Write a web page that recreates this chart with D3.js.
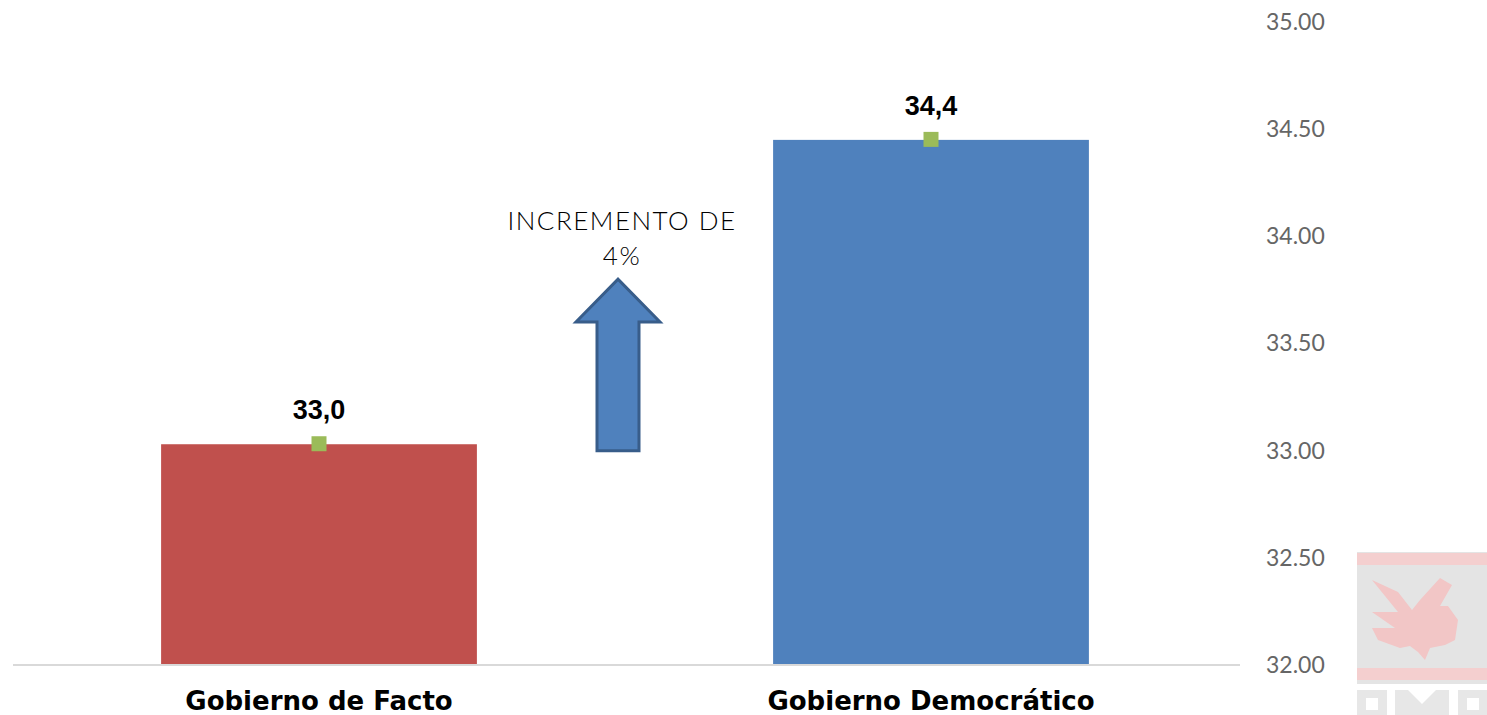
<!DOCTYPE html>
<meta charset="utf-8" />
<script src="https://d3js.org/d3.v7.min.js"></script>
<style>
	body { margin: 0; background: #fff; }
</style>
<div id="chart"></div>
<script>
	// data
	var categories = ["Gobierno de Facto", "Gobierno Democrático"];
	var values = [33.03, 34.45];
	var valueLabels = ["33,0", "34,4"];
	var barColors = ["#c0504d", "#4f81bd"];
	var yTicks = [32.0, 32.5, 33.0, 33.5, 34.0, 34.5, 35.0];
	var annotationLines = ["INCREMENTO DE", "4%"];
	var arrowFrom = 33.0, arrowHeadBase = 33.6, arrowTip = 33.8;

	var width = 1487, height = 715;

	var svg = d3.select("#chart").append("svg")
		.attr("width", width)
		.attr("height", height);

	var x = d3.scaleBand().domain(categories).range([13, 1237]);
	var barW = x.bandwidth() * 0.516;

	var y = d3.scaleLinear().domain([32, 35]).range([665, 22]);

	// watermark logo bottom right (faded)
	var logo = svg.append("g").attr("opacity", 0.8);
	logo.append("rect").attr("x", 1357).attr("y", 552).attr("width", 130).attr("height", 132).attr("fill", "#dedede");
	logo.append("rect").attr("x", 1357).attr("y", 553).attr("width", 130).attr("height", 12).attr("fill", "#f2c4c4");
	logo.append("rect").attr("x", 1357).attr("y", 668).attr("width", 130).attr("height", 12).attr("fill", "#f2c4c4");
	// rough eagle shape
	var eagle = [[1372,580],[1398,592],[1412,610],[1420,600],[1440,578],[1452,585],[1440,606],[1448,606],[1458,620],[1455,640],[1445,645],[1430,648],[1425,660],[1418,652],[1410,646],[1400,648],[1378,640],[1372,628],[1395,628],[1372,612],[1398,612]];
	logo.append("path")
		.attr("d", d3.line()(eagle) + "Z")
		.attr("fill", "#f0b8b8");
	// bottom letters
	logo.append("rect").attr("x", 1357).attr("y", 690).attr("width", 30).attr("height", 25).attr("fill", "#e2e2e2");
	logo.append("rect").attr("x", 1366).attr("y", 698).attr("width", 12).attr("height", 12).attr("fill", "#fff");
	logo.append("path").attr("d", "M1395,690 L1408,690 L1422,704 L1436,690 L1449,690 L1449,715 L1395,715 Z").attr("fill", "#e2e2e2");
	logo.append("rect").attr("x", 1458).attr("y", 690).attr("width", 29).attr("height", 25).attr("fill", "#e2e2e2");
	logo.append("rect").attr("x", 1467).attr("y", 698).attr("width", 12).attr("height", 12).attr("fill", "#fff");

	// bars
	svg.selectAll(".bar")
		.data(categories)
		.join("rect")
		.attr("class", "bar")
		.attr("x", (d) => x(d) + x.bandwidth() / 2 - barW / 2)
		.attr("y", (d, i) => y(values[i]))
		.attr("width", barW)
		.attr("height", (d, i) => y(32) - y(values[i]))
		.attr("fill", (d, i) => barColors[i]);

	// baseline
	svg.append("line")
		.attr("x1", 13).attr("x2", 1240)
		.attr("y1", y(32)).attr("y2", y(32))
		.attr("stroke", "#d9d9d9")
		.attr("stroke-width", 2);

	// green markers
	svg.selectAll(".marker")
		.data(categories)
		.join("rect")
		.attr("class", "marker")
		.attr("x", (d) => x(d) + x.bandwidth() / 2 - 7.5)
		.attr("y", (d, i) => y(values[i]) - 8)
		.attr("width", 15)
		.attr("height", 15)
		.attr("fill", "#9bbb59");

	// value labels
	svg.selectAll(".vlabel")
		.data(categories)
		.join("text")
		.attr("class", "vlabel")
		.attr("x", (d) => x(d) + x.bandwidth() / 2)
		.attr("y", (d, i) => y(values[i]) - 25)
		.attr("text-anchor", "middle")
		.style("font-family", "Liberation Sans, Arial, sans-serif")
		.style("font-weight", "bold")
		.style("font-size", "27px")
		.attr("fill", "#000")
		.text((d, i) => valueLabels[i]);

	// category labels
	svg.selectAll(".clabel")
		.data(categories)
		.join("text")
		.attr("class", "clabel")
		.attr("x", (d) => x(d) + x.bandwidth() / 2)
		.attr("y", 710)
		.attr("text-anchor", "middle")
		.style("font-family", "DejaVu Sans, sans-serif")
		.style("font-weight", "bold")
		.style("font-size", "26px")
		.attr("fill", "#000")
		.text((d) => d);

	// right axis tick labels
	svg.append("g")
		.attr("transform", "translate(1240,0)")
		.call(d3.axisRight(y).tickValues(yTicks).tickFormat(d3.format(".2f")).tickSize(0).tickPadding(26))
		.call((g) => g.select(".domain").remove())
		.call((g) => g.selectAll("text")
			.style("font-family", "Lato, sans-serif")
			.style("font-size", "23px")
			.attr("fill", "#666"));

	// increase arrow between the bars
	var ax = (x(categories[0]) + x.bandwidth() / 2 + x(categories[1]) + x.bandwidth() / 2) / 2 - 7;
	var shaftHalf = 21, headHalf = 42;
	var arrow = [
		[ax - shaftHalf, y(arrowFrom)],
		[ax - shaftHalf, y(arrowHeadBase)],
		[ax - headHalf, y(arrowHeadBase)],
		[ax, y(arrowTip)],
		[ax + headHalf, y(arrowHeadBase)],
		[ax + shaftHalf, y(arrowHeadBase)],
		[ax + shaftHalf, y(arrowFrom)]
	];
	svg.append("path")
		.attr("d", d3.line()(arrow) + "Z")
		.attr("fill", "#4f81bd")
		.attr("stroke", "#385d8a")
		.attr("stroke-width", 3)
		.attr("stroke-linejoin", "miter");

	// annotation text
	svg.append("g")
		.selectAll("text")
		.data(annotationLines)
		.join("text")
		.attr("x", ax + 4)
		.attr("y", (d, i) => 230 + i * 35)
		.attr("text-anchor", "middle")
		.style("font-family", "Lato, sans-serif")
		.style("font-weight", "300")
		.style("font-size", "26px")
		.style("letter-spacing", "1.5px")
		.attr("fill", "#000")
		.text((d) => d);
</script>
